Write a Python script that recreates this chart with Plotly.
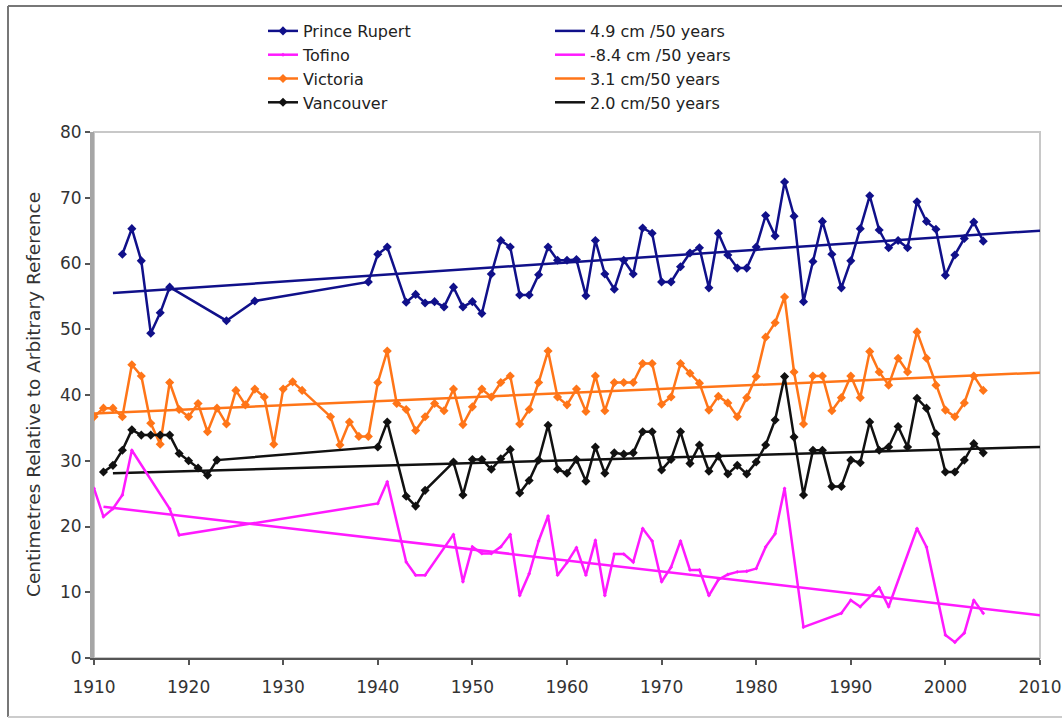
import plotly.graph_objects as go

# ---------------- data ----------------
pr_years = [1913, 1914, 1915, 1916, 1917, 1918, 1924, 1927, 1939, 1940, 1941, 1943, 1944, 1945, 1946,
            1947, 1948, 1949, 1950, 1951, 1952, 1953, 1954, 1955, 1956, 1957, 1958, 1959, 1960, 1961,
            1962, 1963, 1964, 1965, 1966, 1967, 1968, 1969, 1970, 1971, 1972, 1973, 1974, 1975, 1976,
            1977, 1978, 1979, 1980, 1981, 1982, 1983, 1984, 1985, 1986, 1987, 1988, 1989, 1990, 1991,
            1992, 1993, 1994, 1995, 1996, 1997, 1998, 1999, 2000, 2001, 2002, 2003, 2004]
pr_vals = [61.4, 65.3, 60.4, 49.4, 52.5, 56.4, 51.3, 54.3, 57.2, 61.4, 62.5, 54.1, 55.3, 54.0, 54.2,
           53.4, 56.4, 53.4, 54.2, 52.4, 58.4, 63.5, 62.5, 55.2, 55.2, 58.3, 62.5, 60.5, 60.5, 60.6,
           55.1, 63.5, 58.4, 56.1, 60.5, 58.4, 65.4, 64.6, 57.2, 57.2, 59.5, 61.6, 62.4, 56.3, 64.6,
           61.3, 59.3, 59.3, 62.5, 67.3, 64.2, 72.4, 67.2, 54.2, 60.3, 66.4, 61.4, 56.3, 60.4, 65.3,
           70.3, 65.1, 62.4, 63.5, 62.4, 69.4, 66.4, 65.2, 58.2, 61.3, 63.8, 66.3, 63.4]

to_years = [1910, 1911, 1912, 1913, 1914, 1918, 1919, 1940, 1941, 1943, 1944, 1945, 1948, 1949, 1950,
            1951, 1952, 1953, 1954, 1955, 1956, 1957, 1958, 1959, 1960, 1961, 1962, 1963, 1964, 1965,
            1966, 1967, 1968, 1969, 1970, 1971, 1972, 1973, 1974, 1975, 1976, 1977, 1978, 1979, 1980,
            1981, 1982, 1983, 1985, 1989, 1990, 1991, 1993, 1994, 1997, 1998, 2000, 2001, 2002, 2003,
            2004]
to_vals = [25.8, 21.5, 22.7, 24.8, 31.6, 22.7, 18.7, 23.5, 26.8, 14.6, 12.6, 12.6, 18.8, 11.6, 16.9,
           15.9, 15.9, 16.9, 18.8, 9.5, 12.8, 17.8, 21.6, 12.6, 14.5, 16.8, 12.6, 17.9, 9.5, 15.8,
           15.8, 14.6, 19.7, 17.8, 11.6, 13.8, 17.8, 13.4, 13.4, 9.5, 11.9, 12.7, 13.1, 13.2, 13.6,
           16.9, 18.9, 25.8, 4.7, 6.8, 8.8, 7.8, 10.7, 7.8, 19.7, 16.9, 3.5, 2.4, 3.8, 8.8,
           6.8]

vi_years = [1910, 1911, 1912, 1913, 1914, 1915, 1916, 1917, 1918, 1919, 1920, 1921, 1922, 1923, 1924,
            1925, 1926, 1927, 1928, 1929, 1930, 1931, 1932, 1935, 1936, 1937, 1938, 1939, 1940, 1941,
            1942, 1943, 1944, 1945, 1946, 1947, 1948, 1949, 1950, 1951, 1952, 1953, 1954, 1955, 1956,
            1957, 1958, 1959, 1960, 1961, 1962, 1963, 1964, 1965, 1966, 1967, 1968, 1969, 1970, 1971,
            1972, 1973, 1974, 1975, 1976, 1977, 1978, 1979, 1980, 1981, 1982, 1983, 1984, 1985, 1986,
            1987, 1988, 1989, 1990, 1991, 1992, 1993, 1994, 1995, 1996, 1997, 1998, 1999, 2000, 2001,
            2002, 2003, 2004]
vi_vals = [36.7, 38.0, 38.0, 36.7, 44.6, 42.9, 35.7, 32.5, 41.9, 37.8, 36.7, 38.7, 34.4, 38.0, 35.6,
           40.7, 38.5, 40.9, 39.7, 32.5, 40.9, 42.0, 40.7, 36.7, 32.4, 35.9, 33.7, 33.7, 41.9, 46.7,
           38.7, 37.8, 34.6, 36.7, 38.7, 37.6, 40.9, 35.5, 38.2, 40.9, 39.7, 41.9, 42.9, 35.6, 37.8,
           41.9, 46.7, 39.7, 38.5, 40.9, 37.5, 42.9, 37.6, 41.9, 41.9, 41.9, 44.8, 44.8, 38.6, 39.7,
           44.8, 43.3, 41.8, 37.7, 39.8, 38.8, 36.7, 39.6, 42.8, 48.8, 51.0, 54.9, 43.5, 35.6, 42.9,
           42.9, 37.6, 39.6, 42.9, 39.6, 46.6, 43.5, 41.5, 45.6, 43.5, 49.6, 45.6, 41.5, 37.7, 36.7,
           38.8, 42.9, 40.7]

va_years = [1911, 1912, 1913, 1914, 1915, 1916, 1917, 1918, 1919, 1920, 1921, 1922, 1923, 1940, 1941,
            1943, 1944, 1945, 1948, 1949, 1950, 1951, 1952, 1953, 1954, 1955, 1956, 1957, 1958, 1959,
            1960, 1961, 1962, 1963, 1964, 1965, 1966, 1967, 1968, 1969, 1970, 1971, 1972, 1973, 1974,
            1975, 1976, 1977, 1978, 1979, 1980, 1981, 1982, 1983, 1984, 1985, 1986, 1987, 1988, 1989,
            1990, 1991, 1992, 1993, 1994, 1995, 1996, 1997, 1998, 1999, 2000, 2001, 2002, 2003, 2004]
va_vals = [28.3, 29.3, 31.6, 34.7, 33.9, 33.9, 33.9, 33.9, 31.1, 30.0, 28.9, 27.8, 30.1, 32.1, 35.9,
           24.6, 23.1, 25.5, 29.8, 24.8, 30.2, 30.2, 28.7, 30.3, 31.7, 25.1, 27.0, 30.1, 35.4, 28.7,
           28.1, 30.2, 26.9, 32.1, 28.1, 31.2, 31.0, 31.2, 34.4, 34.4, 28.6, 30.2, 34.4, 29.6, 32.4,
           28.4, 30.7, 28.0, 29.3, 28.0, 29.8, 32.4, 36.2, 42.8, 33.6, 24.8, 31.6, 31.6, 26.1, 26.1,
           30.1, 29.7, 35.9, 31.6, 32.1, 35.2, 32.1, 39.5, 38.0, 34.1, 28.3, 28.3, 30.1, 32.6, 31.2]

# linear trend lines (start / end)
pr_trend_years = [1912, 2010]
pr_trend_vals = [55.5, 65.0]
to_trend_years = [1911, 2010]
to_trend_vals = [23.0, 6.5]
vi_trend_years = [1910, 2010]
vi_trend_vals = [37.2, 43.4]
va_trend_years = [1912, 2010]
va_trend_vals = [28.1, 32.1]

series_names = ["Prince Rupert", "Tofino", "Victoria", "Vancouver"]
trend_names = ["4.9 cm /50 years", "-8.4 cm /50 years", "3.1 cm/50 years", "2.0 cm/50 years"]
y_title = "Centimetres Relative to Arbitrary Reference"

x_ticks = [1910, 1920, 1930, 1940, 1950, 1960, 1970, 1980, 1990, 2000, 2010]
y_ticks = [0, 10, 20, 30, 40, 50, 60, 70, 80]

# ---------------- style ----------------
C_PR = "#10108a"
C_TO = "#ff1aff"
C_VI = "#ff7518"
C_VA = "#111111"
FONT = "DejaVu Sans, Liberation Sans, Arial, sans-serif"

fig = go.Figure()

series = [
    (series_names[0], pr_years, pr_vals, C_PR, 7),
    (series_names[1], to_years, to_vals, C_TO, 3),
    (series_names[2], vi_years, vi_vals, C_VI, 7),
    (series_names[3], va_years, va_vals, C_VA, 7),
]
trends = [
    (trend_names[0], pr_trend_years, pr_trend_vals, C_PR),
    (trend_names[1], to_trend_years, to_trend_vals, C_TO),
    (trend_names[2], vi_trend_years, vi_trend_vals, C_VI),
    (trend_names[3], va_trend_years, va_trend_vals, C_VA),
]

for name, xs, ys, col in trends:
    fig.add_trace(go.Scatter(
        x=xs, y=ys, mode="lines", name=name, legend="legend2",
        line=dict(color=col, width=2.5), legendgroup=name,
    ))

for name, xs, ys, col, ms in series:
    fig.add_trace(go.Scatter(
        x=xs, y=ys, mode="lines+markers", name=name, legend="legend",
        line=dict(color=col, width=2.5),
        marker=dict(symbol="diamond", size=ms, color=col),
        legendgroup=name,
    ))

for i, tr in enumerate(fig.data):
    tr.legendrank = i

W, H = 1063, 718
L, R, T, B = 94, 23, 132, 60
pw, ph = W - L - R, H - T - B


def px_x(px):
    return (px - L) / pw


def px_y(py):
    return (H - B - py) / ph


shapes = [
    dict(type="rect", xref="paper", yref="paper", x0=0, x1=1, y0=0, y1=1,
         line=dict(color="#c8c8c8", width=2), layer="below"),
    dict(type="line", xref="paper", yref="paper", x0=px_x(8), x1=px_x(1062), y0=px_y(6), y1=px_y(6),
         line=dict(color="#777777", width=2)),
    dict(type="line", xref="paper", yref="paper", x0=px_x(8), x1=px_x(8), y0=px_y(6), y1=px_y(717),
         line=dict(color="#777777", width=2)),
    dict(type="line", xref="paper", yref="paper", x0=px_x(8), x1=px_x(1062), y0=px_y(717), y1=px_y(717),
         line=dict(color="#cccccc", width=2)),
]

legend_common = dict(
    orientation="v", xref="container", yref="container", xanchor="left", yanchor="top",
    bgcolor="rgba(0,0,0,0)", font=dict(family=FONT, size=16, color="#222222"),
    tracegroupgap=0, itemwidth=30,
)

fig.update_layout(
    width=W, height=H,
    margin=dict(l=L, r=R, t=T, b=B, autoexpand=False),
    paper_bgcolor="white", plot_bgcolor="white",
    font=dict(family=FONT, size=16, color="#222222"),
    showlegend=True,
    legend=dict(x=263 / W, y=1 - 14 / H, **legend_common),
    legend2=dict(x=550 / W, y=1 - 14 / H, **legend_common),
    shapes=shapes,
    annotations=[dict(
        text=y_title, textangle=-90, xref="paper", yref="paper",
        x=px_x(33), y=0.5, xanchor="center", yanchor="middle", showarrow=False,
        font=dict(family=FONT, size=18.5, color="#333333"),
    )],
    xaxis=dict(
        range=[1910, 2010], tickvals=x_ticks, ticktext=[str(v) for v in x_ticks],
        showgrid=False, zeroline=False, showline=True, linecolor="#555555", linewidth=2,
        ticks="outside", ticklen=5, tickcolor="#555555", tickwidth=1.5, tickangle=0,
        ticklabelstandoff=8,
        tickfont=dict(family=FONT, size=17, color="#333333"),
    ),
    yaxis=dict(
        range=[0, 80], tickvals=y_ticks, ticktext=[str(v) for v in y_ticks],
        showgrid=False, zeroline=False, showline=True, linecolor="#a6a6a6", linewidth=4,
        ticks="outside", ticklen=5, tickcolor="#555555", tickwidth=1.5,
        tickfont=dict(family=FONT, size=17, color="#333333"),
    ),
)

fig.write_html("out.html")
